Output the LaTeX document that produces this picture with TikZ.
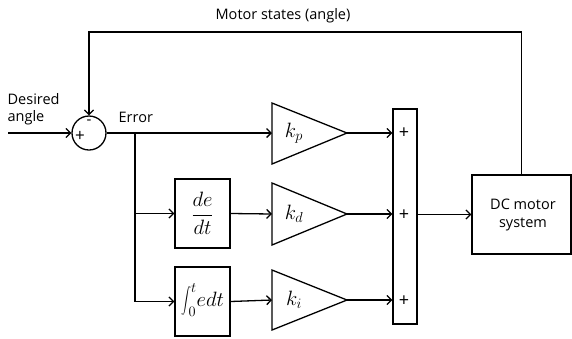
\documentclass[tikz,border=0pt]{standalone}
\usepackage{fontspec}
\setmainfont{Open Sans}
\usepackage{graphicx}
\usetikzlibrary{arrows.meta}
\begin{document}
\begin{tikzpicture}[x=1pt,y=-1pt,
  line width=1.3pt,
  >={Straight Barb[length=4.5pt,width=9pt]},
  lbl/.style={font=\fontsize{14.5}{17.5}\selectfont, inner sep=0pt},
  blk/.style={draw, rectangle, inner sep=0pt},
  gain/.style={font=\fontsize{21}{24}\selectfont, inner sep=0pt}]
\useasboundingbox (0,0) rectangle (572,338);

% summing junction
\node[draw, circle, minimum size=34pt, inner sep=0pt] (sum) at (89,133) {};
\node[inner sep=0pt, font=\fontsize{17}{17}\selectfont] (plus) at (80,136) {+};
\node[inner sep=0pt, font=\fontsize{15}{15}\selectfont] (minus) at (89,122) {-};

% labels
\node[lbl, align=left, anchor=west] (desired) at (7,109) {Desired\\angle};
\node[lbl, anchor=west] (err) at (118,117) {Error};
\node[lbl, anchor=west] (ms) at (215,16) {Motor states (angle)};

% blocks
\node[blk, minimum width=55pt, minimum height=69pt] (deriv) at (202.5,213.5) {};
\node[gain] (derivtxt) at (202.5,213.5) {$\displaystyle\frac{de}{dt}$};
\node[blk, minimum width=55pt, minimum height=69pt] (integ) at (202.5,301.5) {};
\node[gain] (integtxt) at (202.5,300) {$\mathop{\vcenter{\hbox{\scalebox{1}[1.3]{$\displaystyle\int$}}}}\nolimits_{\!0}^{t}\! edt$};

% gain triangles
\coordinate (kpin) at (272,133);
\coordinate (kdin) at (272,214);
\coordinate (kiin) at (272,300);
\coordinate (kpout) at (347,133);
\coordinate (kdout) at (347,214);
\coordinate (kiout) at (347,300);
\draw (272,103) -- (kpout) -- (272,164) -- cycle;
\draw (272,183) -- (kdout) -- (272,245) -- cycle;
\draw (272,270) -- (kiout) -- (272,330) -- cycle;
\node[gain] (kp) at (294,133) {$k_p$};
\node[gain] (kd) at (294,214) {$k_d$};
\node[gain] (ki) at (294,300) {$k_i$};

% summing bar
\node[blk, minimum width=24pt, minimum height=215pt] (bar) at (405,216.5) {};
\node[lbl, font=\fontsize{18}{18}\selectfont] (p1) at (404,133) {+};
\node[lbl, font=\fontsize{18}{18}\selectfont] (p2) at (404,215) {+};
\node[lbl, font=\fontsize{18}{18}\selectfont] (p3) at (404,301) {+};

% DC motor
\node[blk, minimum width=99pt, minimum height=79pt] (dc) at (521.5,214.5) {};
\node[lbl, align=center] (dctxt) at (523,215) {DC motor\\system};

% connectors
\coordinate (in) at (8,133);
\coordinate (br) at (135,133);
\coordinate (fbtop) at (89,32);
\draw[->] (in) -- (sum.west);
\draw[->] (dc.north) |- (fbtop) -- (sum.north);
\draw[->] (sum.east) -- (kpin);
\draw[->] (br) |- (deriv.west);
\draw[->] (br) |- (integ.west);
\draw[->] (deriv.east) -- (kdin);
\draw[->] (integ.east) -- (kiin);
\draw[->] (kpout) -- (bar.west |- kpout);
\draw[->] (kdout) -- (bar.west |- kdout);
\draw[->] (kiout) -- (bar.west |- kiout);
\draw[->] (bar.east |- dc.west) -- (dc.west);
\end{tikzpicture}
\end{document}
